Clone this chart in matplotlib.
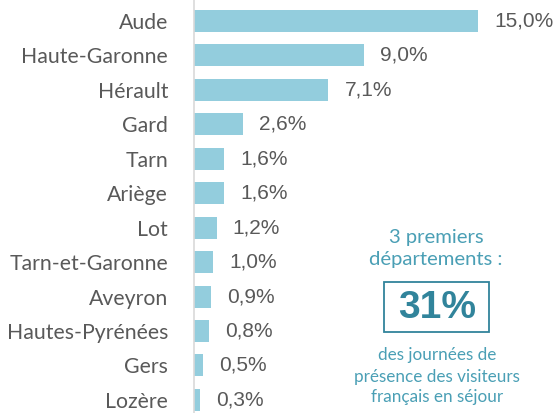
import matplotlib.pyplot as plt
from matplotlib.patches import Rectangle

# Données
departements = ["Aude", "Haute-Garonne", "Hérault", "Gard", "Tarn", "Ariège", "Lot",
                "Tarn-et-Garonne", "Aveyron", "Hautes-Pyrénées", "Gers", "Lozère"]
parts = [15.0, 9.0, 7.1, 2.6, 1.6, 1.6, 1.2, 1.0, 0.9, 0.8, 0.5, 0.3]
etiquettes = ["15,0%", "9,0%", "7,1%", "2,6%", "1,6%", "1,6%", "1,2%", "1,0%",
              "0,9%", "0,8%", "0,5%", "0,3%"]

bleu = "#93CDDD"
teal_fonce = "#31849B"
teal = "#4A9FB5"
gris = "#595959"

fig = plt.figure(figsize=(5.57, 4.13), dpi=100)
ax = fig.add_axes([194 / 557, 0.0, 1 - 194 / 557, 1.0])

pos = list(range(len(departements)))
ax.barh(pos, parts, height=0.64, color=bleu)

for y, v, lab in zip(pos, parts, etiquettes):
    ax.annotate(lab, xy=(v, y), xytext=(11.5, 0), textcoords="offset points",
                ha="left", va="center", fontsize=15, color=gris,
                family="Liberation Sans")

ax.set_xlim(0, 19.17)
ax.set_ylim(11.38, -0.61)
ax.set_yticks(pos)
ax.set_yticklabels(departements, fontsize=15.3, color=gris, family="Lato")
ax.tick_params(axis="y", length=0, pad=18.7)
ax.set_xticks([])
for s in ["top", "right", "bottom"]:
    ax.spines[s].set_visible(False)
ax.spines["left"].set_color("#D9D9D9")
ax.spines["left"].set_linewidth(1.2)

# Encadré
fig.text(436 / 557, 1 - 238 / 413, "3 premiers", ha="center", va="center",
         fontsize=14.6, color=teal, family="Lato")
fig.text(436 / 557, 1 - 259 / 413, "départements :", ha="center", va="center",
         fontsize=14.6, color=teal, family="Lato")
fig.patches.append(Rectangle((384 / 557, 1 - 332 / 413), 105 / 557, 50 / 413,
                             transform=fig.transFigure, fill=False,
                             edgecolor=teal_fonce, linewidth=1.3))
fig.text(437 / 557, 1 - 308 / 413, "31%", ha="center", va="center",
         fontsize=28, fontweight="bold", color=teal_fonce, family="Liberation Sans")
for ty, t in zip([355, 377, 397], ["des journées de", "présence des visiteurs",
                                   "français en séjour"]):
    fig.text(437 / 557, 1 - ty / 413, t, ha="center", va="center",
             fontsize=12.3, color=teal, family="Lato")

fig.savefig("out.png", dpi=100)
